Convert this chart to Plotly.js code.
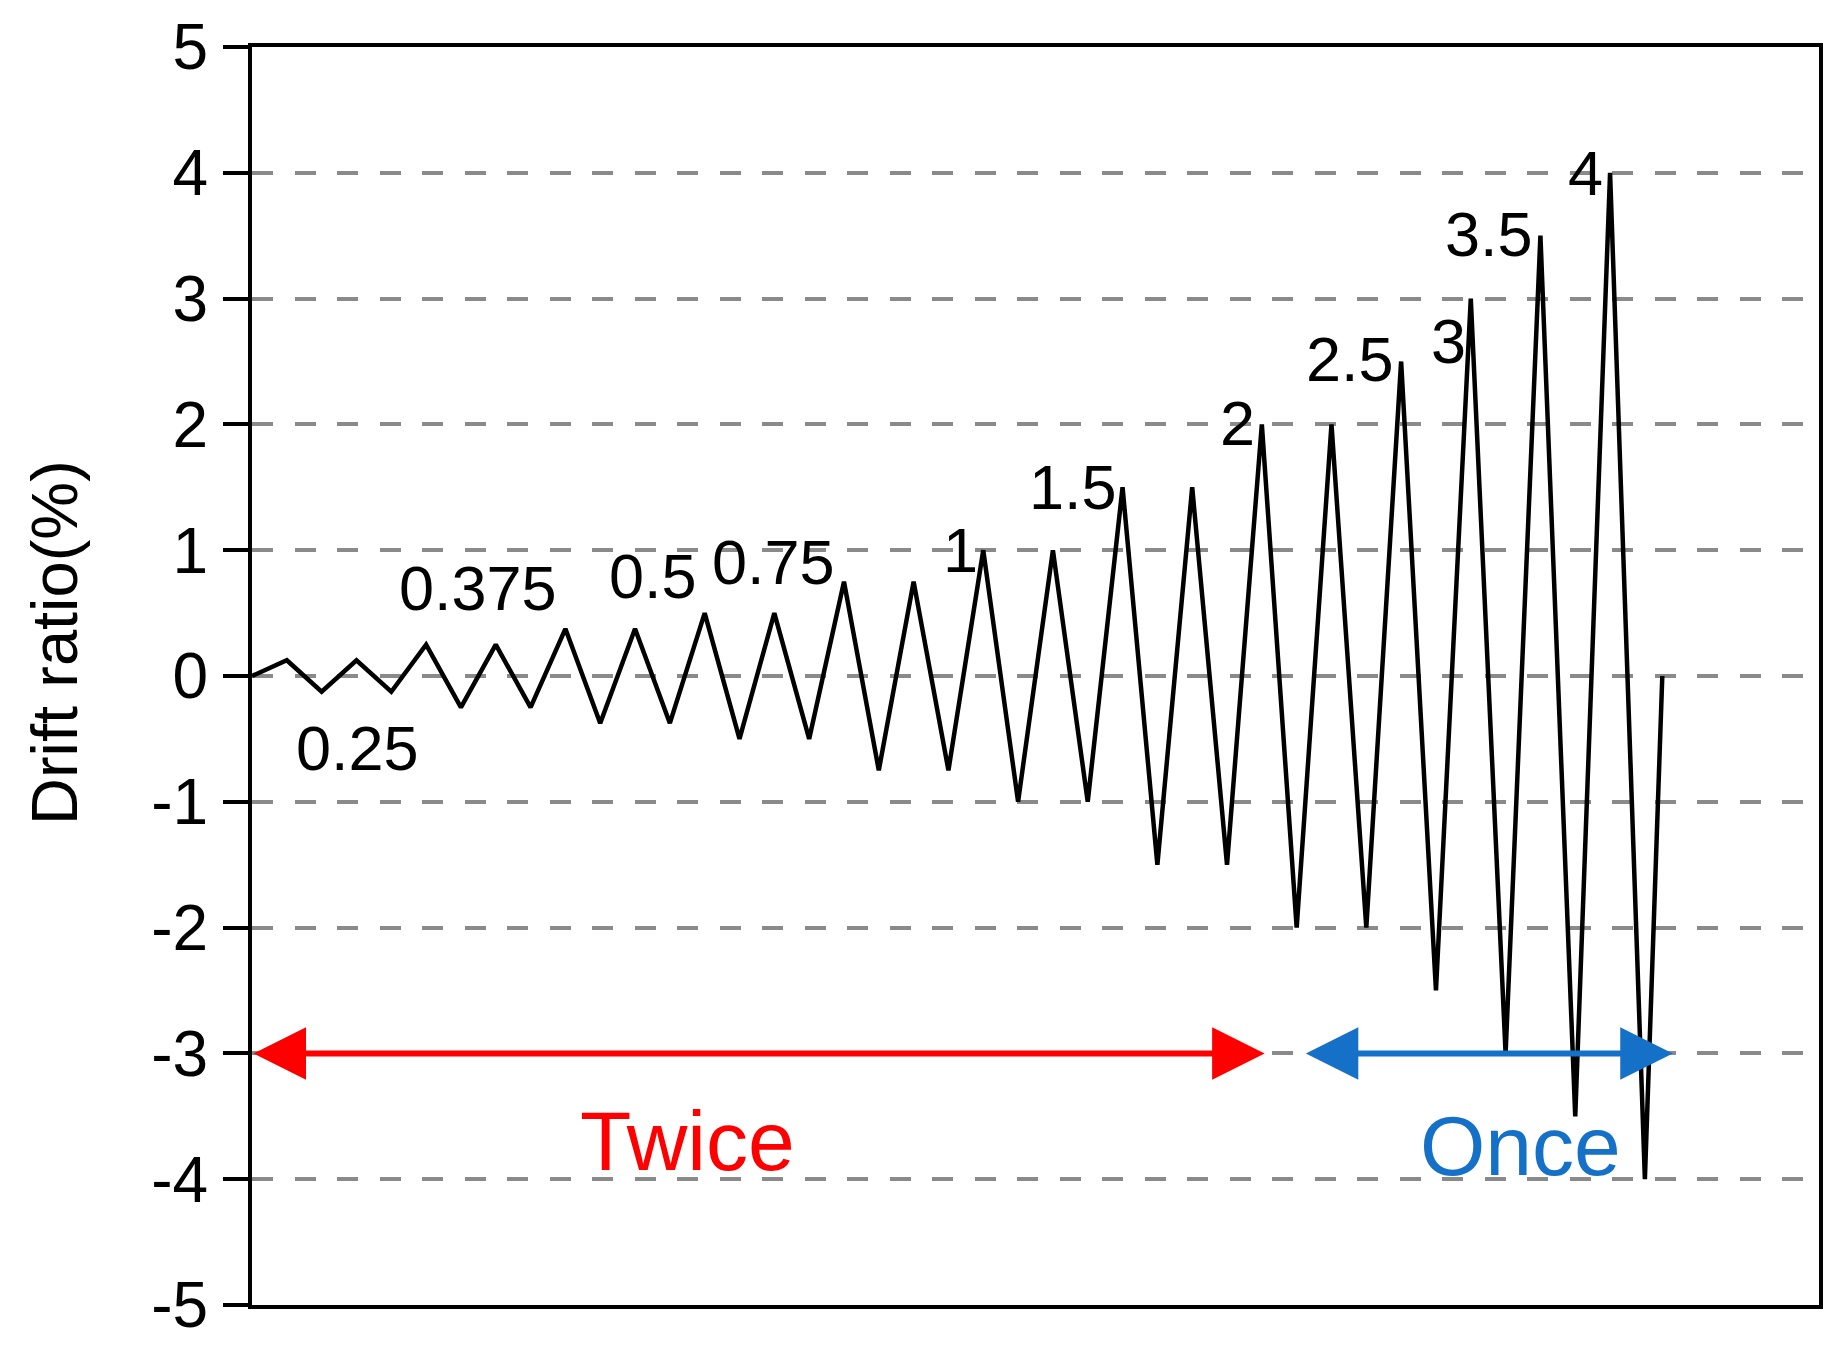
<!DOCTYPE html>
<html>
<head>
<meta charset="utf-8">
<script src="https://cdn.plot.ly/plotly-3.0.1.min.js"></script>
<style>
  html, body { margin: 0; padding: 0; background: #ffffff; }
  #chart { width: 1848px; height: 1357px; }
</style>
</head>
<body>
<div id="chart"></div>
<script>
// ---- Data (loading protocol) ----
// Reversal-point index along the loading history
const stepIndex = [0, 1, 2, 3, 4, 5, 6, 7, 8, 9, 10, 11, 12, 13, 14, 15, 16, 17, 18, 19, 20,
                   21, 22, 23, 24, 25, 26, 27, 28, 29, 30, 31, 32, 33, 34, 35, 36, 37, 38, 39, 40, 40.5];
// Drift ratio (%) at each reversal point
const driftRatio = [0,
  0.125, -0.125, 0.125, -0.125,
  0.25, -0.25, 0.25, -0.25,
  0.375, -0.375, 0.375, -0.375,
  0.5, -0.5, 0.5, -0.5,
  0.75, -0.75, 0.75, -0.75,
  1, -1, 1, -1,
  1.5, -1.5, 1.5, -1.5,
  2, -2, 2, -2,
  2.5, -2.5,
  3, -3,
  3.5, -3.5,
  4, -4,
  0];

// Y-axis ticks
const yTickVals = [-5, -4, -3, -2, -1, 0, 1, 2, 3, 4, 5];
const yTickText = ['-5', '-4', '-3', '-2', '-1', '0', '1', '2', '3', '4', '5'];

// Amplitude labels written on the chart
const levelLabels = ['0.25', '0.375', '0.5', '0.75', '1', '1.5', '2', '2.5', '3', '3.5', '4'];

// Cycle-repetition phases
const phaseNames = ['Twice', 'Once'];
const phaseStart = [0, 30.22];
const phaseEnd = [29.08, 40.8];

// ---- Layout-only placement (not data) ----
const levelLabelX = [3.03, 6.49, 11.51, 14.97, 20.34, 23.59, 28.30, 31.54, 34.36, 35.53, 38.29];
const levelLabelY = [-0.576, 0.70, 0.795, 0.91, 1.0, 1.50, 2.01, 2.52, 2.66, 3.51, 4.0];
const phaseLabelX = [12.50, 36.42];
const phaseLabelY = [-3.70, -3.74];
const phaseColors = ['#ff0000', '#1570c8'];
const arrowLevel = -3;

const FONT = 'Liberation Sans, Arial, Helvetica, sans-serif';

const trace = {
  x: stepIndex,
  y: driftRatio,
  type: 'scatter',
  mode: 'lines',
  line: { color: '#000000', width: 4.5 },
  hoverinfo: 'x+y',
  cliponaxis: false
};

const annotations = [];

levelLabels.forEach((t, i) => {
  annotations.push({
    text: t, x: levelLabelX[i], y: levelLabelY[i], xref: 'x', yref: 'y',
    showarrow: false, xanchor: 'center', yanchor: 'middle',
    font: { family: FONT, size: 63, color: '#000000' }
  });
});

phaseNames.forEach((name, i) => {
  annotations.push({
    text: '', x: phaseEnd[i], y: arrowLevel, ax: phaseStart[i], ay: arrowLevel,
    xref: 'x', yref: 'y', axref: 'x', ayref: 'y',
    showarrow: true, arrowside: 'end+start',
    arrowhead: 2, startarrowhead: 2,
    arrowwidth: 6, arrowsize: 1.75, startarrowsize: 1.75,
    standoff: 0, startstandoff: 0,
    arrowcolor: phaseColors[i]
  });
  annotations.push({
    text: name, x: phaseLabelX[i], y: phaseLabelY[i], xref: 'x', yref: 'y',
    showarrow: false, xanchor: 'center', yanchor: 'middle',
    font: { family: FONT, size: 84, color: phaseColors[i] }
  });
});

annotations.push({
  text: 'Drift ratio(%)', textangle: -90,
  xref: 'paper', yref: 'paper', x: -0.1264, y: 0.527,
  xanchor: 'center', yanchor: 'middle', showarrow: false,
  font: { family: FONT, size: 65, color: '#000000' }
});

const layout = {
  width: 1848,
  height: 1357,
  margin: { l: 252, r: 29, t: 47, b: 52, pad: 0 },
  paper_bgcolor: '#ffffff',
  plot_bgcolor: '#ffffff',
  showlegend: false,
  font: { family: FONT, color: '#000000' },
  xaxis: {
    range: [0, 45],
    showline: true, mirror: true, linecolor: '#000000', linewidth: 4,
    showticklabels: false, ticks: '', showgrid: false, zeroline: false
  },
  yaxis: {
    range: [-5, 5],
    tickmode: 'array', tickvals: yTickVals, ticktext: yTickText,
    ticks: 'outside', ticklen: 25, tickwidth: 4, tickcolor: '#000000',
    ticklabelstandoff: 2,
    tickfont: { family: FONT, size: 64, color: '#000000' },
    showline: true, mirror: true, linecolor: '#000000', linewidth: 4,
    showgrid: true, gridcolor: '#8a8a8a', gridwidth: 4, griddash: '21px,21.5px',
    zeroline: false
  },
  annotations: annotations
};

Plotly.newPlot('chart', [trace], layout, { displayModeBar: false, staticPlot: true });
</script>
</body>
</html>
